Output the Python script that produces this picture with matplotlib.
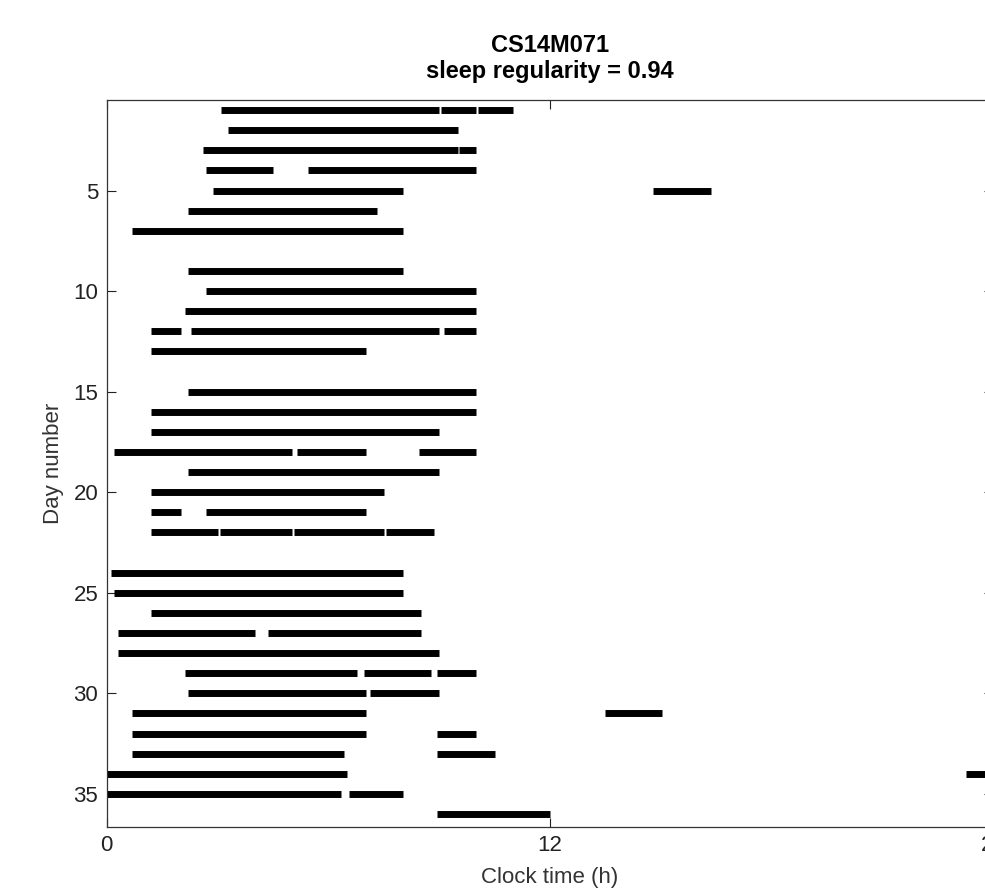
from matplotlib import pyplot as plt

# sömnperioder per dag (dag, start, slut) i timmar
days = [1, 1, 1, 2, 3, 3, 4, 4, 5, 5, 6, 7, 9, 10, 11, 12, 12, 12, 13,
        15, 16, 17, 18, 18, 18, 19, 20, 21, 21, 22, 22, 22, 22,
        24, 25, 26, 27, 27, 28, 29, 29, 29, 30, 30, 31, 31, 32, 32,
        33, 33, 34, 34, 35, 35, 36]
starts = [3.10, 9.05, 10.05, 3.29, 2.61, 9.55, 2.70, 5.46, 2.89, 14.80,
          2.19, 0.69, 2.19, 2.70, 2.11, 1.20, 2.29, 9.14, 1.20,
          2.19, 1.20, 1.20, 0.21, 5.15, 8.46, 2.19, 1.20, 1.20, 2.70,
          1.20, 3.06, 5.06, 7.56,
          0.12, 0.21, 1.20, 0.30, 4.38, 0.30, 2.11, 6.96, 8.95, 2.19, 7.14,
          0.69, 13.50, 0.69, 8.95, 0.69, 8.95, 0.00, 23.25, 0.00, 6.55, 8.95]
ends = [9.00, 10.00, 11.00, 9.50, 9.50, 10.00, 4.51, 10.00, 8.01, 16.36,
        7.32, 8.01, 8.01, 10.00, 10.00, 2.01, 9.00, 10.00, 7.01,
        10.00, 10.00, 9.00, 5.01, 7.01, 10.00, 9.00, 7.50, 2.01, 7.01,
        3.01, 5.01, 7.50, 8.86,
        8.01, 8.01, 8.50, 4.02, 8.50, 9.00, 6.78, 8.78, 10.00, 7.01, 9.00,
        7.01, 15.04, 7.01, 10.00, 6.42, 10.50, 6.51, 24.00, 6.33, 8.01, 12.00]

subject = 'CS14M071'
regularity = 0.94
xticks = [0, 12, 24]
yticks = [5, 10, 15, 20, 25, 30, 35]

plt.rcParams['font.family'] = ['Liberation Sans', 'DejaVu Sans']

fig = plt.figure(figsize=(9.85, 8.9), dpi=100, facecolor='white')
ax = fig.add_axes([0.1083, 0.0711, 0.9001, 0.8165])

ax.hlines(days, starts, ends, colors='black', linewidth=5, capstyle='butt')

ax.set_xlim(0, 24)
ax.set_ylim(36.63, 0.5)
ax.set_xticks(xticks)
ax.set_yticks(yticks)
ax.tick_params(direction='in', top=True, right=True, length=6.5, width=0.8,
               labelsize=16, pad=6, colors='#222222')
for s in ax.spines.values():
        s.set_linewidth(0.9)
        s.set_color('#333333')

ax.set_xlabel('Clock time (h)', fontsize=16, color='#333333', labelpad=8)
ax.set_ylabel('Day number', fontsize=16, color='#333333', labelpad=7)
ax.set_title(subject + '\nsleep regularity = %.2f' % regularity,
             fontsize=17, fontweight='bold', pad=16, linespacing=1.15)

fig.savefig('out.png', dpi=100)
